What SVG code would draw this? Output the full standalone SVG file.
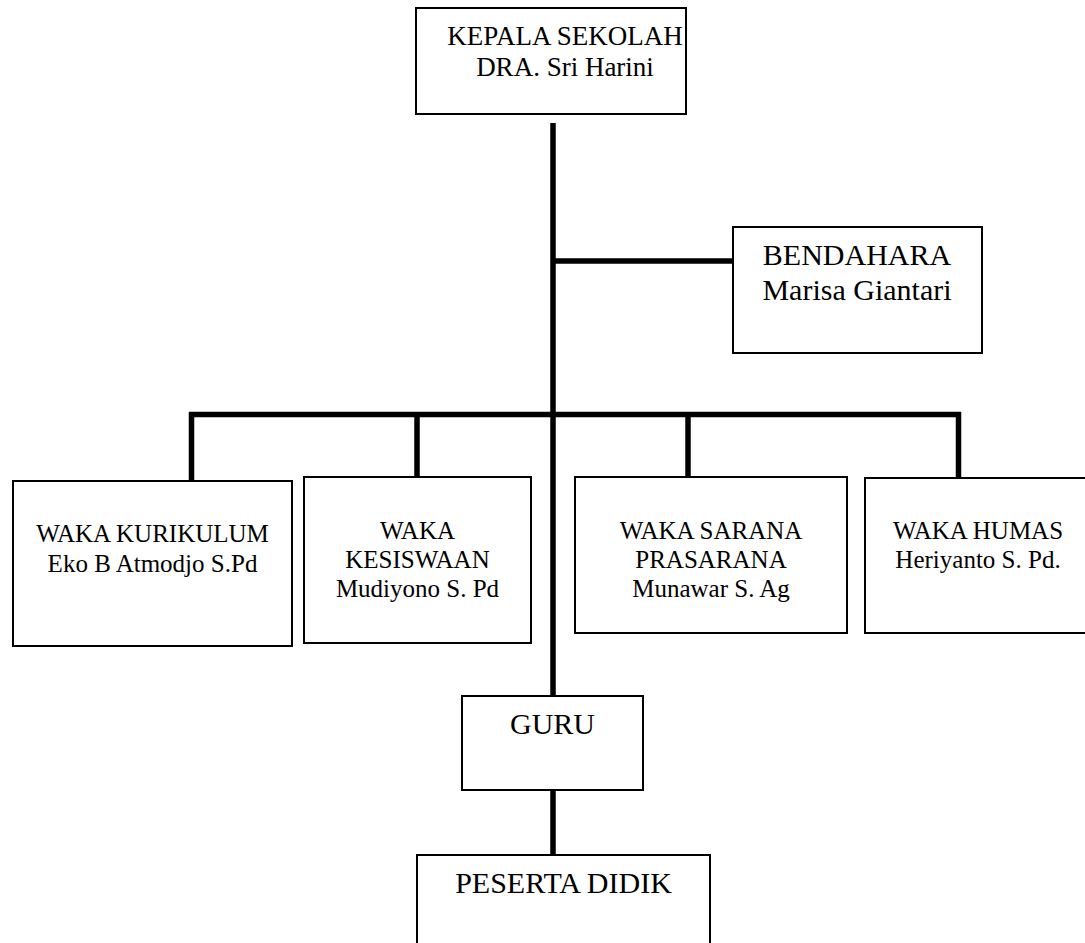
<svg xmlns="http://www.w3.org/2000/svg" width="1085" height="943" viewBox="0 0 1085 943">
<style>
.box{fill:#fff;stroke:#000;stroke-width:2}
.ln{stroke:#000;stroke-width:5.5;fill:none;stroke-linecap:butt}
.t{font-family:"Liberation Serif","Times New Roman",serif;fill:#000;text-anchor:middle}
.k{font-size:27px}
.big{font-size:30px}
.sm{font-size:25px}
</style>
<rect width="1085" height="943" fill="#fff"/>
<g id="connectors">
<line class="ln" x1="553" y1="123" x2="553" y2="695"/>
<line class="ln" x1="553" y1="261" x2="733" y2="261"/>
<line class="ln" x1="189" y1="414.5" x2="961" y2="414.5"/>
<line class="ln" x1="191.5" y1="412" x2="191.5" y2="480"/>
<line class="ln" x1="417" y1="412" x2="417" y2="477"/>
<line class="ln" x1="688" y1="412" x2="688" y2="477"/>
<line class="ln" x1="958.5" y1="412" x2="958.5" y2="477"/>
<line class="ln" x1="553" y1="791" x2="553" y2="855"/>
</g>
<g id="kepala">
<rect class="box" x="416" y="8" width="270" height="106"/>
<text class="t k" x="565" y="45">KEPALA SEKOLAH</text>
<text class="t k" x="565" y="76">DRA. Sri Harini</text>
</g>
<g id="bendahara">
<rect class="box" x="733" y="227" width="249" height="126"/>
<text class="t big" x="857" y="265">BENDAHARA</text>
<text class="t big" x="857" y="300">Marisa Giantari</text>
</g>
<g id="kurikulum">
<rect class="box" x="13" y="481" width="279" height="165"/>
<text class="t sm" x="152.5" y="542">WAKA KURIKULUM</text>
<text class="t sm" x="152.5" y="572">Eko B Atmodjo S.Pd</text>
</g>
<g id="kesiswaan">
<rect class="box" x="304" y="477" width="227" height="166"/>
<text class="t sm" x="417.5" y="539">WAKA</text>
<text class="t sm" x="417.5" y="568">KESISWAAN</text>
<text class="t sm" x="417.5" y="597">Mudiyono S. Pd</text>
</g>
<g id="sarana">
<rect class="box" x="575" y="477" width="272" height="156"/>
<text class="t sm" x="711" y="539">WAKA SARANA</text>
<text class="t sm" x="711" y="568">PRASARANA</text>
<text class="t sm" x="711" y="597">Munawar S. Ag</text>
</g>
<g id="humas">
<rect class="box" x="865" y="478" width="230" height="155"/>
<text class="t sm" x="978" y="539">WAKA HUMAS</text>
<text class="t sm" x="978" y="568">Heriyanto S. Pd.</text>
</g>
<g id="guru">
<rect class="box" x="462" y="696" width="181" height="94"/>
<text class="t big" x="552.5" y="734">GURU</text>
</g>
<g id="peserta">
<rect class="box" x="417" y="855" width="293" height="100"/>
<text class="t big" x="563.5" y="893">PESERTA DIDIK</text>
</g>
</svg>
